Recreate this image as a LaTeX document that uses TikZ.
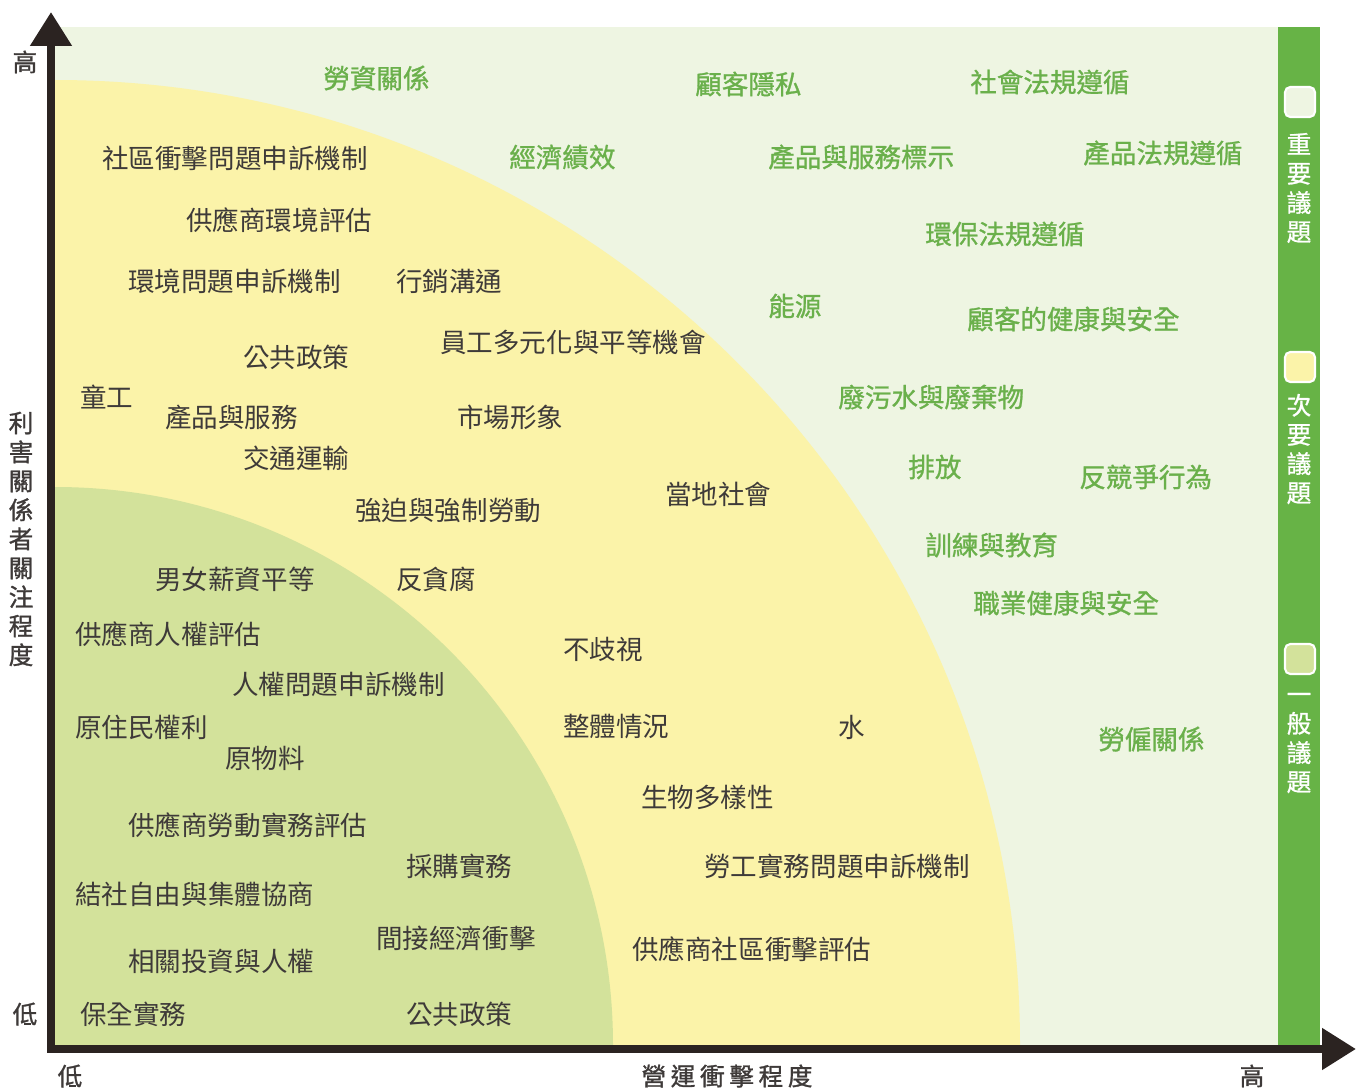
\documentclass[tikz,border=0pt]{standalone}
\usepackage{fontspec}
\setmainfont{Noto Sans CJK TC}
\usetikzlibrary{arrows.meta}

\definecolor{bgmajor}{HTML}{EEF5E2}
\definecolor{bgminor}{HTML}{FBF3A9}
\definecolor{bggeneral}{HTML}{D3E29B}
\definecolor{barmajor}{HTML}{67B346}
\definecolor{txtmajor}{HTML}{6AB04B}
\definecolor{txtgray}{HTML}{3E3A39}
\definecolor{axisdark}{HTML}{2B2321}

\tikzset{
  issue/.style={anchor=west,inner sep=0pt},
  major/.style={issue,text=txtmajor,font=\fontsize{15.1}{16}\selectfont\addfontfeature{FakeBold=1}},
  minor/.style={issue,text=txtgray,font=\fontsize{15.1}{16}\selectfont},
  axis/.style={draw=axisdark,line width=0.16cm,-{Triangle[length=0.68cm,width=0.8cm]}},
  axislabel/.style={inner sep=0pt,text=txtgray,font=\fontsize{14}{16.5}\selectfont\addfontfeature{FakeBold=1.2}},
  legendbox/.style={draw=white,line width=1.2pt,rounded corners=3pt,minimum size=0.6cm,inner sep=0pt},
  legendtext/.style={inner sep=0pt,align=center,text=white,font=\fontsize{14}{16.6}\selectfont\addfontfeature{FakeBold=1}}
}

\begin{document}
\begin{tikzpicture}[x=0.02cm,y=-0.02cm]
\useasboundingbox (0,0) rectangle (1363,1088);

% Construct background regions
\fill[bgmajor] (55,27) rectangle (1278,1045);
\begin{scope}
\clip (55,27) rectangle (1278,1045);
\fill[bgminor] (55,1045) circle [radius=965];
\fill[bggeneral] (55,1045) circle [radius=558];
\end{scope}
\fill[barmajor] (1278,27) rectangle (1320,1045);

% Construct axes
\coordinate (O) at (51,1049);
\coordinate (ytip) at (51,12);
\coordinate (xtip) at (1356,1049);
\draw[axis,line cap=rect] (O) -- (ytip);
\draw[axis,line cap=rect] (O) -- (xtip);
\node[axislabel] (yhigh) at (25,62) {高};
\node[axislabel] (ylow) at (25,1014) {低};
\node[axislabel] (xlow) at (70,1076) {低};
\node[axislabel] (xhigh) at (1252,1076) {高};
\node[axislabel,font=\fontsize{14}{16.5}\selectfont\addfontfeature{FakeBold=1.2,LetterSpace=19}] (xtitle) at (727,1076) {營運衝擊程度};
\node[axislabel,align=center] (ytitle) at (21,539) {利\\害\\關\\係\\者\\關\\注\\程\\度};

% Construct legend
\node[legendbox,fill=bgmajor] (kmajor) at (1300,102) {};
\node[legendtext] (tmajor) at (1299,188) {重\\要\\議\\題};
\node[legendbox,fill=bgminor] (kminor) at (1300,367) {};
\node[legendtext] (tminor) at (1299,449) {次\\要\\議\\題};
\node[legendbox,fill=bggeneral] (kgeneral) at (1300,659) {};
\node[legendtext] (tgeneral) at (1299,743) {一\\般\\議\\題};

% Major issues
\node[major] (labrel) at (323,78) {勞資關係};
\node[major] (privacy) at (695,84) {顧客隱私};
\node[major] (socomp) at (970,82) {社會法規遵循};
\node[major] (econ) at (509,157) {經濟績效};
\node[major] (labeling) at (768,157) {產品與服務標示};
\node[major] (prodcomp) at (1083,153) {產品法規遵循};
\node[major] (envcomp) at (925,234) {環保法規遵循};
\node[major] (energy) at (768,306) {能源};
\node[major] (health) at (967,319) {顧客的健康與安全};
\node[major] (waste) at (838,397) {廢污水與廢棄物};
\node[major] (emission) at (908,467) {排放};
\node[major] (anticomp) at (1079,477) {反競爭行為};
\node[major] (training) at (925,545) {訓練與教育};
\node[major] (ohs) at (973,603) {職業健康與安全};
\node[major] (employ) at (1098,739) {勞僱關係};

% Minor issues
\node[minor] (commgriev) at (102,158) {社區衝擊問題申訴機制};
\node[minor] (suppenv) at (186,220) {供應商環境評估};
\node[minor] (envgriev) at (128,281) {環境問題申訴機制};
\node[minor] (marketing) at (396,281) {行銷溝通};
\node[minor] (diversity) at (440,342) {員工多元化與平等機會};
\node[minor] (policyA) at (243,357) {公共政策};
\node[minor] (childlab) at (80,397) {童工};
\node[minor] (products) at (165,417) {產品與服務};
\node[minor] (presence) at (457,417) {市場形象};
\node[minor] (transport) at (243,458) {交通運輸};
\node[minor] (localcomm) at (665,494) {當地社會};
\node[minor] (forced) at (355,510) {強迫與強制勞動};
\node[minor] (equalpay) at (155,579) {男女薪資平等};
\node[minor] (corrupt) at (396,579) {反貪腐};
\node[minor] (nondisc) at (563,649) {不歧視};
\node[minor] (overall) at (563,727) {整體情況};
\node[minor] (water) at (838,727) {水};
\node[minor] (biodiv) at (641,797) {生物多樣性};
\node[minor] (labgriev) at (704,866) {勞工實務問題申訴機制};
\node[minor] (suppcomm) at (632,949) {供應商社區衝擊評估};

% General issues
\node[minor] (supphr) at (75,634) {供應商人權評估};
\node[minor] (hrgriev) at (232,684) {人權問題申訴機制};
\node[minor] (indigen) at (75,727) {原住民權利};
\node[minor] (materials) at (225,758) {原物料};
\node[minor] (supplab) at (128,825) {供應商勞動實務評估};
\node[minor] (procure) at (406,866) {採購實務};
\node[minor] (assoc) at (75,894) {結社自由與集體協商};
\node[minor] (indirect) at (376,938) {間接經濟衝擊};
\node[minor] (invest) at (128,961) {相關投資與人權};
\node[minor] (security) at (80,1014) {保全實務};
\node[minor] (policyB) at (406,1014) {公共政策};
\end{tikzpicture}
\end{document}
